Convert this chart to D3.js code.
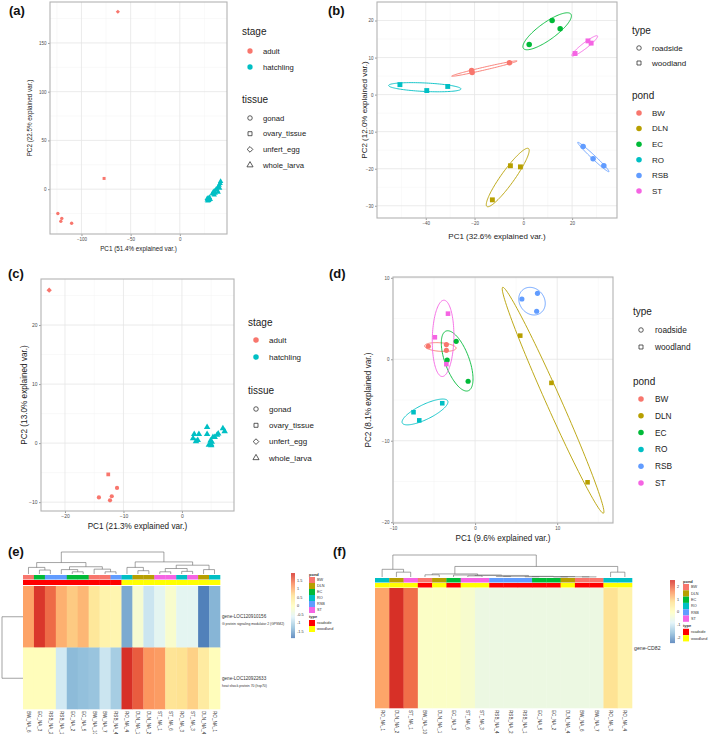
<!DOCTYPE html>
<html>
<head>
<meta charset="utf-8">
<script src="https://cdn.jsdelivr.net/npm/d3@7"></script>
<style>
body{margin:0;background:#fff}
text{font-family:"Liberation Sans",Arial,Helvetica,sans-serif}
</style>
</head>
<body>
<svg id="fig" width="709" height="734"></svg>
<script>
// ---------- data ----------
const pondNames = ['BW','DLN','EC','RO','RSB','ST'];
const pondColors = ['#F8766D','#B79F00','#00BA38','#00BFC4','#619CFF','#F564E3'];
const pondType = {BW:'roadside', EC:'roadside', RSB:'roadside', DLN:'woodland', RO:'woodland', ST:'woodland'};
const typeNames = ['roadside','woodland'];
const typeColors = ['#FF0000','#FFFF00'];
const stageNames = ['adult','hatchling'];
const stageColors = ['#F8766D','#00BFC4'];
const tissueNames = ['gonad','ovary_tissue','unfert_egg','whole_larva'];

// (a) PCA, all samples: [PC1, PC2, tissue]
const aAdult = [[-63,182,'unfert_egg'],[-77,11,'ovary_tissue'],[-124,-25,'gonad'],[-120,-30,'gonad'],[-121,-33,'gonad'],[-110,-35,'gonad']];
const aHatch = [[28,-11],[29,-10],[28.5,-12],[30,-9],[29.5,-11.5],[31,-10.5],[30,-8.5],[28,-9.5],
  [33,-5],[34,-3],[35,-6],[36,-4],[35,-2],[37,0],[38,-1],[39,-3],[39,2],[40,4],[40.5,1],[41,6],[41.5,8]];

// (b) PCA, adults by pond: [pond, PC1, PC2]
const bPoints = [
  ['BW',-21.2,6.5],['BW',-21.0,6.0],['BW',-5.7,8.6],
  ['DLN',-12.7,-28.4],['DLN',-5.3,-19.2],['DLN',-1.2,-19.5],
  ['EC',2.4,13.5],['EC',11.8,20.0],['EC',15.1,17.8],
  ['RO',-50.6,2.7],['RO',-39.6,1.1],['RO',-31.0,2.2],
  ['RSB',24.5,-14.0],['RSB',28.6,-17.3],['RSB',33.0,-19.2],
  ['ST',21.2,11.1],['ST',26.5,14.5],['ST',27.8,13.9]];

// (c) PCA, all samples
const cAdult = [[-22.7,25.9,'unfert_egg'],[-12.6,-5.3,'ovary_tissue'],[-11.1,-7.6,'gonad'],[-12.0,-9.0,'gonad'],[-14.2,-9.2,'gonad'],[-12.3,-9.7,'gonad']];
const cHatch = [[2.1,1.5],[2.9,1.5],[4.3,2.7],[4.3,1.5],[2.4,0.3],[2.7,0.5],[5.1,0.2],[5.3,1.0],[6.0,1.4],
  [7.0,2.5],[7.3,2.0],[5.0,-0.2],[4.6,-0.3],[5.6,1.0],[4.9,0.4],[1.9,0.8],[6.2,1.6],[5.0,-0.4]];

// (d) PCA, adults by pond
const dPoints = [
  ['BW',-5.7,1.6],['BW',-3.5,1.8],['BW',-3.5,1.1],
  ['DLN',5.5,2.9],['DLN',9.3,-2.9],['DLN',13.7,-15.1],
  ['EC',-2.3,2.2],['EC',-3.4,-0.1],['EC',-0.85,-2.7],
  ['RO',-7.5,-6.5],['RO',-6.8,-7.5],['RO',-4.0,-5.4],
  ['RSB',5.7,7.4],['RSB',7.6,8.1],['RSB',7.5,5.9],
  ['ST',-3.3,5.6],['ST',-4.9,2.7],['ST',-3.5,-0.6]];

// (e) heatmap
const eSamples = ['BW_NA_6','EC_NA_3','RSB_NA_2','RSB_NA_1','EC_NA_2','EC_NA_5','BW_NA_10','BW_NA_7','RSB_NA_4',
  'RO_NA_4','DLN_NA_1','DLN_NA_2','ST_NA_1','ST_NA_6','RO_NA_3','ST_NA_3','DLN_NA_4','RO_NA_1'];
const eGenes = ['gene-LOC120910156','gene-LOC120922633'];
const eGeneDesc = ['G protein signaling modulator 2 (GPSM2)','heat shock protein 70 (hsp70)'];
const eValues = [
  [1.1,1.85,1.5,1.0,0.8,0.95,0.5,0.25,0.2,-1.45,-0.2,-0.8,-0.55,-0.15,-0.55,-0.55,-1.8,-1.35],
  [0.05,0.05,0.05,-0.75,-1.3,-1.25,-1.2,-0.8,-1.1,1.9,1.6,1.2,1.15,0.55,0.6,0.75,0.4,0.05]];
const eTicks = [1.5,1,0.5,0,-0.5,-1,-1.5];
// [height, left, right]; leaves are column indices
const eTree = [1.0,
  [0.52,[0.3,0,[0.18,1,2]],[0.33,[0.2,3,[0.1,4,5]],[0.22,6,[0.1,7,8]]]],
  [0.55,[0.3,9,[0.15,10,11]],[0.4,[0.25,[0.1,12,13],[0.12,14,15]],[0.2,16,17]]]];

// (f) heatmap
const fSamples = ['RO_NA_1','DLN_NA_2','ST_NA_1','BW_NA_10','DLN_NA_1','EC_NA_3','ST_NA_6','ST_NA_3','RSB_NA_4',
  'RSB_NA_2','RSB_NA_1','EC_NA_5','EC_NA_2','DLN_NA_4','BW_NA_6','BW_NA_7','RO_NA_3','RO_NA_4'];
const fGenes = ['gene-CD82'];
const fValues = [[1.4,2.45,1.9,-0.1,-0.1,-0.1,-0.2,-0.5,-0.5,-0.5,-0.5,-0.5,-0.5,-0.5,-0.5,-0.5,0.75,0.35]];
const fTicks = [2,1,0,-1,-2];
const fTree = [1.0,
  [0.35,0,[0.22,1,2]],
  [0.48,[0.14,[0.1,3,4],[0.09,5,[0.07,[0.05,6,7],[0.03,[0.02,8,9],[0.02,[0.01,10,11],[0.01,[0.005,12,13],[0.005,14,15]]]]]]],[0.22,16,17]]];

const rdylbu = ['#4575B4','#91BFDB','#E0F3F8','#FFFFBF','#FEE090','#FC8D59','#D73027'];

// ---------- drawing ----------
const svg = d3.select('#fig');
svg.append('rect').attr('width',709).attr('height',734).attr('fill','#fff');
const pondColor = d3.scaleOrdinal(pondNames, pondColors);
const typeColor = d3.scaleOrdinal(typeNames, typeColors);
const stageColor = d3.scaleOrdinal(stageNames, stageColors);

function symbolPath(shape, size){
  const t = {gonad:d3.symbolCircle, roadside:d3.symbolCircle, ovary_tissue:d3.symbolSquare, woodland:d3.symbolSquare,
    unfert_egg:d3.symbolSquare, whole_larva:d3.symbolTriangle}[shape];
  return d3.symbol(t, size)();
}
function symbolRot(shape){ return shape==='unfert_egg' ? ' rotate(45)' : ''; }

let clipN = 0;
function scatterPanel(o){
  const x = d3.scaleLinear().domain(o.xDomain).range([o.left,o.right]);
  const y = d3.scaleLinear().domain(o.yDomain).range([o.bottom,o.top]);
  const g = svg.append('g');
  const mids = (t,dom)=>{const s=t[1]-t[0], out=[];for(let v=t[0]-s/2;v>=dom[0];v-=s)out.push(v);for(let v=t[0]+s/2;v<=dom[1];v+=s)out.push(v);return out;};
  g.selectAll(null).data(mids(o.xTicks,o.xDomain)).join('line')
    .attr('x1',d=>x(d)).attr('x2',d=>x(d)).attr('y1',o.top).attr('y2',o.bottom)
    .attr('stroke','#f3f3f3').attr('stroke-width',0.5);
  g.selectAll(null).data(mids(o.yTicks,o.yDomain)).join('line')
    .attr('y1',d=>y(d)).attr('y2',d=>y(d)).attr('x1',o.left).attr('x2',o.right)
    .attr('stroke','#f3f3f3').attr('stroke-width',0.5);
  g.selectAll(null).data(o.xTicks).join('line')
    .attr('x1',d=>x(d)).attr('x2',d=>x(d)).attr('y1',o.top).attr('y2',o.bottom)
    .attr('stroke','#e6e6e6').attr('stroke-width',0.8);
  g.selectAll(null).data(o.yTicks).join('line')
    .attr('y1',d=>y(d)).attr('y2',d=>y(d)).attr('x1',o.left).attr('x2',o.right)
    .attr('stroke','#e6e6e6').attr('stroke-width',0.8);
  const styleAxis = a=>{
    a.select('.domain').remove();
    a.selectAll('line').attr('stroke','#555').attr('stroke-width',0.6);
    a.selectAll('text').attr('font-size',o.tickFont).attr('fill','#4d4d4d')
      .attr('font-family','"Liberation Sans",Arial,sans-serif');
  };
  g.append('g').attr('transform',`translate(0,${o.bottom})`)
    .call(d3.axisBottom(x).tickValues(o.xTicks).tickSize(2).tickPadding(1.5)).call(styleAxis);
  g.append('g').attr('transform',`translate(${o.left},0)`)
    .call(d3.axisLeft(y).tickValues(o.yTicks).tickSize(2).tickPadding(1.5)).call(styleAxis);
  g.append('rect').attr('x',o.left).attr('y',o.top).attr('width',o.right-o.left).attr('height',o.bottom-o.top)
    .attr('fill','none').attr('stroke','#b3b3b3').attr('stroke-width',1.1);
  g.append('text').attr('x',(o.left+o.right)/2).attr('y',o.xTitleY).attr('text-anchor','middle')
    .attr('font-size',o.titleFont).attr('fill','#222').text(o.xTitle);
  g.append('text').attr('transform',`translate(${o.yTitleX},${(o.top+o.bottom)/2}) rotate(-90)`)
    .attr('text-anchor','middle').attr('font-size',o.titleFont).attr('fill','#222').text(o.yTitle);
  const id = 'clip'+(clipN++);
  svg.append('clipPath').attr('id',id).append('rect')
    .attr('x',o.left).attr('y',o.top).attr('width',o.right-o.left).attr('height',o.bottom-o.top);
  const plot = g.append('g').attr('clip-path',`url(#${id})`);
  return {x,y,plot};
}

// ggbiplot-style normal ellipse (prob 0.68) from the group's points
function ellipse(pts){
  const n = pts.length, mx = d3.mean(pts,p=>p[0]), my = d3.mean(pts,p=>p[1]);
  let sxx=0, syy=0, sxy=0;
  pts.forEach(p=>{sxx+=(p[0]-mx)**2; syy+=(p[1]-my)**2; sxy+=(p[0]-mx)*(p[1]-my);});
  sxx/=n-1; syy/=n-1; sxy/=n-1;
  const a=Math.sqrt(sxx), b=sxy/a, c=Math.sqrt(Math.max(syy-b*b,0));
  const ed=Math.sqrt(-2*Math.log(1-0.68));
  return d3.range(0,121).map(i=>{const t=-Math.PI+2*Math.PI*i/120;
    return [mx+ed*a*Math.cos(t), my+ed*(b*Math.cos(t)+c*Math.sin(t))];});
}

function legend(o){
  const g = svg.append('g');
  o.blocks.forEach(b=>{
    g.append('text').attr('x',o.titleX).attr('y',b.titleY).attr('font-size',o.titleSize).attr('fill','#222').text(b.title);
    b.items.forEach(it=>{
      g.append('path').attr('d',symbolPath(it.shape,it.size))
        .attr('transform',`translate(${o.markX},${it.y})${symbolRot(it.shape)}`)
        .attr('fill',it.color||'none').attr('stroke',it.color?'none':'#333').attr('stroke-width',0.8);
      g.append('text').attr('x',o.labelX).attr('y',it.y).attr('dy','0.35em')
        .attr('font-size',o.labelSize).attr('fill','#222').text(it.label);
    });
  });
}

function panelLabel(t,x,y){
  svg.append('text').attr('x',x).attr('y',y).attr('font-size',13).attr('font-weight','bold').attr('fill','#111').text(t);
}

// ----- (a)
{
  const p = scatterPanel({left:50,right:227,top:2,bottom:234,xDomain:[-132,48],yDomain:[-46,192],
    xTicks:[-100,-50,0],yTicks:[0,50,100,150],tickFont:4.5,titleFont:6.3,
    xTitle:'PC1 (51.4% explained var.)',yTitle:'PC2 (22.5% explained var.)',xTitleY:251,yTitleX:32});
  p.plot.selectAll(null).data(aAdult).join('path')
    .attr('d',d=>symbolPath(d[2],9)).attr('transform',d=>`translate(${p.x(d[0])},${p.y(d[1])})${symbolRot(d[2])}`)
    .attr('fill',stageColor('adult'));
  p.plot.selectAll(null).data(aHatch).join('path')
    .attr('d',symbolPath('whole_larva',13)).attr('transform',d=>`translate(${p.x(d[0])},${p.y(d[1])})`)
    .attr('fill',stageColor('hatchling'));
  legend({titleX:242,markX:250,labelX:263,titleSize:10,labelSize:7.7,blocks:[
    {title:'stage',titleY:35,items:stageNames.map((s,i)=>({label:s,y:51+16*i,shape:'gonad',size:22,color:stageColor(s)}))},
    {title:'tissue',titleY:103,items:tissueNames.map((s,i)=>({label:s,y:118+15.7*i,shape:s,size:16}))}]});
}

// ----- (b)
{
  const p = scatterPanel({left:377,right:617,top:2,bottom:218,xDomain:[-60,38.4],yDomain:[-33.3,25],
    xTicks:[-40,-20,0,20],yTicks:[-30,-20,-10,0,10,20],tickFont:4.5,titleFont:8,
    xTitle:'PC1 (32.6% explained var.)',yTitle:'PC2 (12.0% explained var.)',xTitleY:239,yTitleX:367});
  const line = d3.line().x(d=>p.x(d[0])).y(d=>p.y(d[1]));
  pondNames.forEach(pn=>{
    const pts = bPoints.filter(d=>d[0]===pn).map(d=>[d[1],d[2]]);
    p.plot.append('path').attr('d',line(ellipse(pts))).attr('fill','none').attr('stroke',pondColor(pn)).attr('stroke-width',0.9);
  });
  p.plot.selectAll(null).data(bPoints).join('path')
    .attr('d',d=>symbolPath(pondType[d[0]],24)).attr('transform',d=>`translate(${p.x(d[1])},${p.y(d[2])})`)
    .attr('fill',d=>pondColor(d[0]));
  legend({titleX:632,markX:639,labelX:652,titleSize:10,labelSize:8,blocks:[
    {title:'type',titleY:34,items:typeNames.map((s,i)=>({label:s,y:48+15*i,shape:s,size:16}))},
    {title:'pond',titleY:99,items:pondNames.map((s,i)=>({label:s,y:113+15.6*i,shape:'gonad',size:24,color:pondColor(s)}))}]});
}

// ----- (c)
{
  const p = scatterPanel({left:41,right:234,top:279,bottom:511,xDomain:[-24.1,8.9],yDomain:[-11.5,27.8],
    xTicks:[-20,-10,0],yTicks:[-10,0,10,20],tickFont:5,titleFont:8.2,
    xTitle:'PC1 (21.3% explained var.)',yTitle:'PC2 (13.0% explained var.)',xTitleY:529,yTitleX:27});
  p.plot.selectAll(null).data(cAdult).join('path')
    .attr('d',d=>symbolPath(d[2],14)).attr('transform',d=>`translate(${p.x(d[0])},${p.y(d[1])})${symbolRot(d[2])}`)
    .attr('fill',stageColor('adult'));
  p.plot.selectAll(null).data(cHatch).join('path')
    .attr('d',symbolPath('whole_larva',18)).attr('transform',d=>`translate(${p.x(d[0])},${p.y(d[1])})`)
    .attr('fill',stageColor('hatchling'));
  legend({titleX:248,markX:256,labelX:269,titleSize:10,labelSize:8,blocks:[
    {title:'stage',titleY:326,items:stageNames.map((s,i)=>({label:s,y:340+17*i,shape:'gonad',size:24,color:stageColor(s)}))},
    {title:'tissue',titleY:394,items:tissueNames.map((s,i)=>({label:s,y:409+16.3*i,shape:s,size:16}))}]});
}

// ----- (d)
{
  const p = scatterPanel({left:393,right:613,top:277,bottom:523,xDomain:[-10,16.8],yDomain:[-20.1,10.1],
    xTicks:[-10,0,10],yTicks:[-20,-10,0,10],tickFont:4.5,titleFont:8.2,
    xTitle:'PC1 (9.6% explained var.)',yTitle:'PC2 (8.1% explained var.)',xTitleY:541,yTitleX:371});
  const line = d3.line().x(d=>p.x(d[0])).y(d=>p.y(d[1]));
  pondNames.forEach(pn=>{
    const pts = dPoints.filter(d=>d[0]===pn).map(d=>[d[1],d[2]]);
    p.plot.append('path').attr('d',line(ellipse(pts))).attr('fill','none').attr('stroke',pondColor(pn)).attr('stroke-width',0.9);
  });
  p.plot.selectAll(null).data(dPoints).join('path')
    .attr('d',d=>symbolPath(pondType[d[0]],21)).attr('transform',d=>`translate(${p.x(d[1])},${p.y(d[2])})`)
    .attr('fill',d=>pondColor(d[0]));
  legend({titleX:633,markX:641,labelX:655,titleSize:10,labelSize:8.3,blocks:[
    {title:'type',titleY:315,items:typeNames.map((s,i)=>({label:s,y:330+17*i,shape:s,size:16}))},
    {title:'pond',titleY:385,items:pondNames.map((s,i)=>({label:s,y:399+16.8*i,shape:'gonad',size:24,color:pondColor(s)}))}]});
}

// ----- heatmaps
function heatmap(o){
  const g = svg.append('g');
  const n = o.samples.length;
  const x = d3.scaleBand().domain(d3.range(n)).range([o.left,o.right]);
  const y = d3.scaleBand().domain(d3.range(o.values.length)).range([o.heatTop,o.heatBottom]);
  const color = d3.scaleLinear()
    .domain(d3.range(7).map(i=>o.domain[0]+i*(o.domain[1]-o.domain[0])/6)).range(rdylbu).clamp(true);
  const pond = s=>s.split('_')[0];
  // column dendrogram
  const h = d3.scaleLinear().domain([0,1]).range([o.treeBottom,o.treeTop]);
  const segs = [];
  (function walk(node){
    if(typeof node==='number') return {x:x(node)+x.bandwidth()/2,h:0};
    const a=walk(node[1]), b=walk(node[2]);
    segs.push(`M${a.x},${h(a.h)}V${h(node[0])}H${b.x}V${h(b.h)}`);
    return {x:(a.x+b.x)/2,h:node[0]};
  })(o.tree);
  g.append('path').attr('d',segs.join('')).attr('fill','none').attr('stroke','#666').attr('stroke-width',0.6);
  // annotation bars
  g.selectAll(null).data(o.samples).join('rect')
    .attr('x',(d,i)=>x(i)).attr('width',x.bandwidth()+0.3).attr('y',o.pondY[0]).attr('height',o.pondY[1]-o.pondY[0])
    .attr('fill',d=>pondColor(pond(d)));
  g.selectAll(null).data(o.samples).join('rect')
    .attr('x',(d,i)=>x(i)).attr('width',x.bandwidth()+0.3).attr('y',o.typeY[0]).attr('height',o.typeY[1]-o.typeY[0])
    .attr('fill',d=>typeColor(pondType[pond(d)]));
  // cells
  o.values.forEach((row,r)=>{
    g.selectAll(null).data(row).join('rect')
      .attr('x',(d,i)=>x(i)).attr('width',x.bandwidth()+0.3).attr('y',y(r)).attr('height',y.bandwidth()+0.3)
      .attr('fill',d=>color(d));
  });
  // column labels
  g.selectAll(null).data(o.samples).join('text')
    .attr('transform',(d,i)=>`translate(${x(i)+x.bandwidth()/2},${o.heatBottom+2}) rotate(90)`)
    .attr('dy','0.35em').attr('font-size',4.6).attr('fill','#333').text(d=>d);
  // row labels
  o.genes.forEach((gn,r)=>{
    g.append('text').attr('x',o.right+2).attr('y',y(r)+y.bandwidth()/2).attr('dy','0.35em')
      .attr('font-size',o.geneFont).attr('fill','#333').text(gn);
    if(o.desc) g.append('text').attr('x',o.right+2).attr('y',y(r)+y.bandwidth()/2+7.5).attr('dy','0.35em')
      .attr('font-size',3.4).attr('fill','#333').text(o.desc[r]);
  });
  // row dendrogram
  if(o.rowTree){
    const y0=y(0)+y.bandwidth()/2, y1=y(1)+y.bandwidth()/2;
    g.append('path').attr('d',`M${o.left},${y0}H${o.rowTree}V${y1}H${o.left}`)
      .attr('fill','none').attr('stroke','#666').attr('stroke-width',0.6);
  }
  // colour bar
  const cb = d3.scaleLinear().domain([o.ticks[0],o.ticks[o.ticks.length-1]]).range(o.cbTickY);
  d3.range(o.cbY[0],o.cbY[1],0.5).forEach(py=>{
    g.append('rect').attr('x',o.cbX).attr('y',py).attr('width',o.cbW).attr('height',0.6).attr('fill',color(cb.invert(py)));
  });
  g.selectAll(null).data(o.ticks).join('text')
    .attr('x',o.cbX+o.cbW+2).attr('y',d=>cb(d)).attr('dy','0.35em').attr('font-size',3.8).attr('fill','#333').text(d=>d);
  // annotation legend
  const lx=o.legX, step=o.legStep;
  g.append('text').attr('x',lx).attr('y',o.legY-1).attr('font-size',4).attr('font-weight','bold').attr('fill','#333').text('pond');
  pondNames.forEach((pn,i)=>{
    g.append('rect').attr('x',lx).attr('y',o.legY+step*i).attr('width',6).attr('height',step).attr('fill',pondColor(pn));
    g.append('text').attr('x',lx+8).attr('y',o.legY+step*i+step/2).attr('dy','0.35em').attr('font-size',3.8).attr('fill','#333').text(pn);
  });
  const ty = o.legY+step*6+5;
  g.append('text').attr('x',lx).attr('y',ty).attr('font-size',4).attr('font-weight','bold').attr('fill','#333').text('type');
  typeNames.forEach((tn,i)=>{
    g.append('rect').attr('x',lx).attr('y',ty+2+step*i).attr('width',6).attr('height',step).attr('fill',typeColor(tn));
    g.append('text').attr('x',lx+8).attr('y',ty+2+step*i+step/2).attr('dy','0.35em').attr('font-size',3.8).attr('fill','#333').text(tn);
  });
}

heatmap({samples:eSamples,values:eValues,genes:eGenes,desc:eGeneDesc,geneFont:4.6,domain:[-1.9,1.9],tree:eTree,
  left:23,right:220,heatTop:586,heatBottom:709,treeTop:552,treeBottom:574,pondY:[575,579.5],typeY:[580,585],
  rowTree:2,ticks:eTicks,cbX:291,cbW:4,cbY:[573,638],cbTickY:[580.5,631.5],legX:309,legY:577,legStep:6});

heatmap({samples:fSamples,values:fValues,genes:fGenes,geneFont:5.2,domain:[-2.45,2.45],tree:fTree,
  left:375,right:632,heatTop:588,heatBottom:708,treeTop:555,treeBottom:577,pondY:[578,582.5],typeY:[583,587.5],
  ticks:fTicks,cbX:670,cbW:5,cbY:[580,643],cbTickY:[586.6,637.4],legX:683,legY:584,legStep:6.3});

panelLabel('(a)',9,15);
panelLabel('(b)',328,15);
panelLabel('(c)',8,278);
panelLabel('(d)',329,278);
panelLabel('(e)',8,556);
panelLabel('(f)',333,556);
</script>
</body>
</html>
